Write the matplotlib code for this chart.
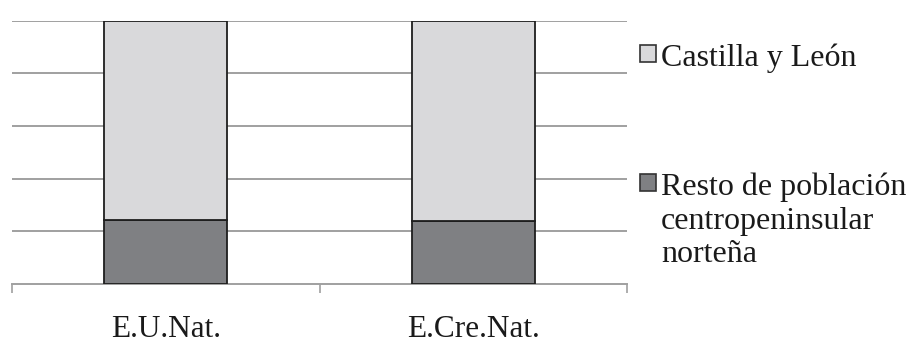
import matplotlib
matplotlib.use("Agg")
import matplotlib.pyplot as plt
from matplotlib.patches import Rectangle

plt.rcParams['font.family'] = ['Liberation Serif', 'DejaVu Serif']

categories = ['E.U.Nat.', 'E.Cre.Nat.']
resto = [24.3, 23.9]          # Resto de población centropeninsular norteña (%)
castilla = [75.7, 76.1]       # Castilla y León (%)
series_labels = ['Castilla y León', 'Resto de población\ncentropeninsular\nnorteña']

light = '#d9d9db'
dark = '#7f8083'
edge = '#1e1e1e'
grid = '#a0a0a0'

fig = plt.figure(figsize=(9.09, 3.43), dpi=100)
ax = fig.add_axes([12 / 909, 59 / 343, 615 / 909, 263.3 / 343])

x = range(len(categories))
ax.bar(x, resto, width=0.4, color=dark, edgecolor=edge, linewidth=1.3, zorder=3)
ax.bar(x, castilla, width=0.4, bottom=resto, color=light, edgecolor=edge,
       linewidth=1.3, zorder=3)

ax.set_xlim(-0.5, 1.5)
ax.set_ylim(0, 100)
for yv in [20, 40, 60, 80, 100]:
    ax.axhline(yv, color=grid, linewidth=1.4, zorder=1)

for s in ['left', 'right', 'top']:
    ax.spines[s].set_visible(False)
ax.spines['bottom'].set_color(grid)
ax.spines['bottom'].set_linewidth(1.4)
ax.set_yticks([])

ax.set_xticks([-0.5, 0.5, 1.5])
ax.set_xticklabels([])
ax.tick_params(axis='x', which='major', length=6.5, width=1.2, color=grid, direction='out')
ax.set_xticks(list(x), minor=True)
ax.set_xticklabels(categories, minor=True, fontsize=22.5, color='#1a1a1a')
ax.tick_params(axis='x', which='minor', length=0, pad=22)

# legend drawn by hand so the swatch lines up with the first text line
leg_items = [(series_labels[0], light, 45), (series_labels[1], dark, 174)]
for label, col, top_px in leg_items:
    fig.patches.append(Rectangle((640 / 909, 1 - (top_px + 17) / 343), 16 / 909, 17 / 343,
                                 transform=fig.transFigure, facecolor=col,
                                 edgecolor='#333333', linewidth=1.2))
    for i, line in enumerate(label.split('\n')):
        fig.text(661 / 909, 1 - (top_px + 21 + i * 33.5) / 343, line, fontsize=23,
                 va='baseline', ha='left', color='#1a1a1a')

fig.savefig('out.png', dpi=100)
